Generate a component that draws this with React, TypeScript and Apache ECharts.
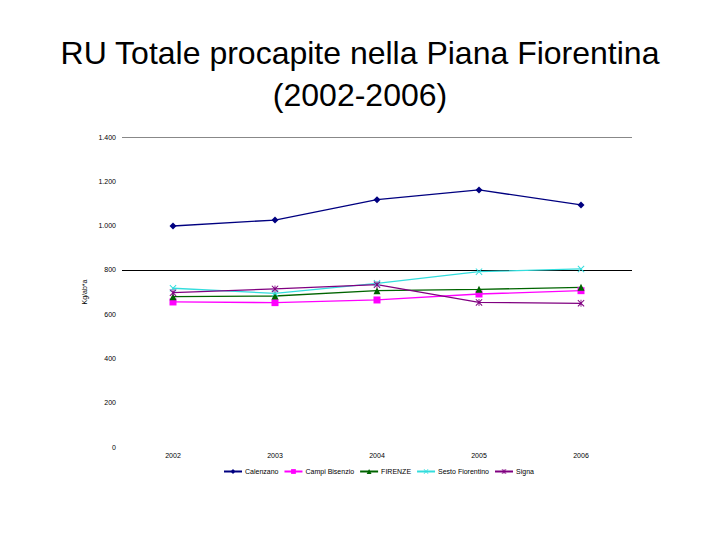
import React, { useEffect, useRef } from "react";
import * as echarts from "echarts";

const years = ["2002", "2003", "2004", "2005", "2006"];
const calenzano = [998, 1025, 1117, 1161, 1093];
const campi = [655, 652, 664, 691, 706];
const firenze = [679, 682, 706, 712, 721];
const sesto = [717, 694, 739, 792, 804];
const signa = [697, 714, 733, 653, 649];
const seriesNames = ["Calenzano", "Campi Bisenzio", "FIRENZE", "Sesto Fiorentino", "Signa"];
const yTicks = [0, 200, 400, 600, 800, 1000, 1200, 1400];

const X_PATH = "path://M0,1L1,0L5,4L9,0L10,1L6,5L10,9L9,10L5,6L1,10L0,9L4,5Z";
const STAR_PATH = "path://M0,1L1,0L4.4,3.4L4.4,0L5.6,0L5.6,3.4L9,0L10,1L6,5L10,9L9,10L5.6,6.6L5.6,10L4.4,10L4.4,6.6L1,10L0,9L4,5Z";

export default function App() {
  const ref = useRef<HTMLDivElement>(null);
  useEffect(() => {
    const chart = echarts.init(ref.current!, null, { renderer: "svg" });
    const mk = (name: string, data: number[], color: string, symbol: string, size: number) => ({
      name,
      type: "line",
      data,
      symbol,
      symbolSize: size,
      showSymbol: true,
      lineStyle: { color, width: 1.3 },
      itemStyle: { color },
    });
    chart.setOption({
      animation: false,
      title: {
        text: "RU Totale procapite nella Piana Fiorentina\n(2002-2006)",
        left: "center",
        top: 27,
        textStyle: {
          fontFamily: "Liberation Sans",
          fontWeight: "normal",
          fontSize: 32,
          lineHeight: 42,
          color: "#000",
        },
      },
      legend: {
        top: 463,
        left: 218,
        itemWidth: 18,
        itemHeight: 6,
        itemGap: 5,
        textStyle: { fontFamily: "Liberation Sans", fontSize: 7, color: "#000", padding: [0, 0, 0, -2] },
        data: seriesNames,
      },
      grid: { left: 122, right: 88, top: 137, bottom: 93 },
      xAxis: {
        type: "category",
        data: years,
        boundaryGap: true,
        axisLine: { show: false },
        axisTick: { show: false },
        axisLabel: { fontFamily: "Liberation Sans", fontSize: 7, color: "#000", margin: 5 },
      },
      yAxis: {
        type: "value",
        min: 0,
        max: 1400,
        interval: 200,
        name: "Kg/ab*a",
        nameLocation: "middle",
        nameGap: 25,
        nameRotate: 90,
        nameTextStyle: { fontFamily: "Liberation Sans", fontSize: 7, color: "#000" },
        axisLine: { show: false },
        axisTick: { show: false },
        axisLabel: {
          fontFamily: "Liberation Sans",
          fontSize: 7,
          color: "#000",
          margin: 6,
          formatter: (v: number) => (v >= 1000 ? v.toLocaleString("de-DE") : String(v)),
        },
        splitLine: {
          show: true,
          lineStyle: {
            color: yTicks.map((t) => (t === 800 ? "#000" : t === 1400 ? "#888" : "rgba(0,0,0,0)")),
            width: 1,
          },
        },
      },
      series: [
        mk(seriesNames[0], calenzano, "#000080", "diamond", 7),
        mk(seriesNames[1], campi, "#FF00FF", "rect", 7),
        mk(seriesNames[2], firenze, "#006400", "triangle", 7),
        mk(seriesNames[3], sesto, "#33DDDD", X_PATH, 7),
        mk(seriesNames[4], signa, "#800080", STAR_PATH, 7),
      ],
    });
    return () => chart.dispose();
  }, []);
  return <div ref={ref} style={{ width: 720, height: 540, position: "absolute", left: 0, top: 0 }} />;
}
